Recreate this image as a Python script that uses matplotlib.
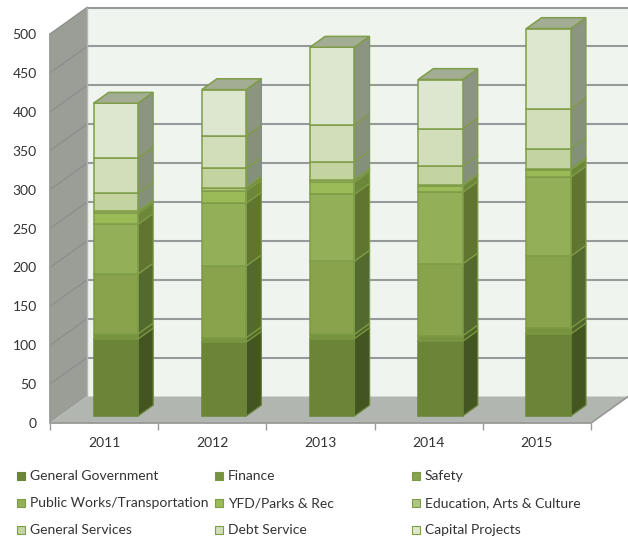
import matplotlib
matplotlib.use("Agg")
import matplotlib.pyplot as plt
import numpy as np
from matplotlib.patches import Rectangle

plt.rcParams['font.family'] = ['Lato', 'DejaVu Sans']

years = ["2011", "2012", "2013", "2014", "2015"]
series = ["General Government", "Finance", "Safety",
          "Public Works/Transportation", "YFD/Parks & Rec", "Education, Arts & Culture",
          "General Services", "Debt Service", "Capital Projects"]

general_government = [99, 95, 99.5, 96, 105.5]
finance = [6.5, 5.5, 5.5, 7, 7.5]
safety = [77, 92.5, 94, 92.5, 92.5]
public_works = [64, 80.5, 86, 92, 101.5]
yfd_parks = [14, 16, 15.5, 8.5, 9.5]
education = [3, 4, 3, 1, 1.5]
general_services = [23, 25, 23, 24.5, 25.5]
debt_service = [45.5, 41.5, 48, 48, 51.5]
capital_projects = [70, 59.5, 99.5, 63, 103]

values = [general_government, finance, safety, public_works, yfd_parks,
          education, general_services, debt_service, capital_projects]

front_colors = ["#6b8437", "#78933f", "#89a34c", "#93af57", "#9bbb59",
                "#afc681", "#c3d4a1", "#d2ddba", "#dde7d0"]
side_colors = ["#435622", "#4f6428", "#54692e", "#5f7530", "#6c8739",
               "#74893f", "#84917a", "#87907a", "#8c9482"]
edge_colors = ["#6b8437", "#7b9741", "#7c9a44", "#7f9c48", "#7f9c48",
               "#7f9c48", "#7f9c48", "#7f9c48", "#7f9c48"]

# depth of the 3D box, in axis units (categories / value)
depth_x = 37 / 108.2
depth_y = 34
bar_width = 0.411
bar_shift = 0.108
bar_base = 9
bar_depth = 0.41

fig = plt.figure(figsize=(6.28, 5.39), dpi=100)
ax = fig.add_axes([50 / 628, (539 - 423) / 539, 541 / 628, 389 / 539])
ax.set_xlim(0, 5)
ax.set_ylim(0, 500)
ax.patch.set_visible(False)
for s in ax.spines.values():
    s.set_visible(False)

# walls and floor
ax.fill([0, depth_x, depth_x, 0], [0, depth_y, 500 + depth_y, 500], color="#9b9e97", lw=0, zorder=1, clip_on=False)
ax.fill([depth_x, 5 + depth_x, 5 + depth_x, depth_x], [depth_y, depth_y, 500 + depth_y, 500 + depth_y],
        color="#f0f4ef", lw=0, zorder=1, clip_on=False)
ax.fill([0, depth_x, 5 + depth_x, 5], [0, depth_y, depth_y, 0], color="#b2b6b1", lw=0, zorder=1, clip_on=False)

# gridlines run across the left wall and the back wall
for v in range(50, 501, 50):
    ax.plot([0, depth_x], [v, v + depth_y], color="#8d8f8a", lw=1, zorder=2, clip_on=False)
    ax.plot([depth_x, 5 + depth_x], [v + depth_y, v + depth_y], color="#97999a", lw=1.5, zorder=2, clip_on=False)
ax.plot([depth_x, depth_x], [depth_y, 500 + depth_y], color="#b5b7b3", lw=1, zorder=2, clip_on=False)
ax.plot([0, 0, 5, 5 + depth_x], [500, 0, 0, depth_y], color="#989a97", lw=1.3, zorder=2, clip_on=False)

x = np.arange(len(years)) + 0.5 + bar_shift
dx = depth_x * bar_depth
dy = depth_y * bar_depth
bottom = np.full(len(years), float(bar_base))
for k, vals in enumerate(values):
    vals = np.array(vals)
    bars = ax.bar(x, vals, bar_width, bottom=bottom, color=front_colors[k],
                  edgecolor=edge_colors[k], linewidth=1.1, zorder=5 + k * 0.01)
    for b in bars:
        b.set_clip_on(False)
    for i in range(len(years)):
        right = x[i] + bar_width / 2
        ax.fill([right, right + dx, right + dx, right],
                [bottom[i], bottom[i] + dy, bottom[i] + vals[i] + dy, bottom[i] + vals[i]],
                facecolor=side_colors[k], edgecolor=edge_colors[k], lw=0.9, zorder=4, clip_on=False)
    bottom = bottom + vals

# tops of the stacks
for i in range(len(years)):
    left = x[i] - bar_width / 2
    right = x[i] + bar_width / 2
    ax.fill([left, right, right + dx, left + dx],
            [bottom[i], bottom[i], bottom[i] + dy, bottom[i] + dy],
            facecolor="#a3ad94", edgecolor="#7f9c48", lw=1.1, zorder=6, clip_on=False)

ax.set_yticks(np.arange(0, 501, 50))
ax.tick_params(axis="y", length=0, pad=9.5, labelsize=10, labelcolor="#333333")
for lab in ax.get_yticklabels():
    lab.set_verticalalignment("center_baseline")
ax.set_xticks(np.arange(0, 6))
ax.set_xticklabels([])
ax.tick_params(axis="x", length=5, width=1, color="#989a97")
for i, yr in enumerate(years):
    ax.text(i + 0.5, -25.5, yr, ha="center", va="center", fontsize=10, color="#333333")

# legend, row by row like the original
legend_x = [17, 215, 412]
legend_y = [476, 503, 530]
for k, name in enumerate(series):
    px = legend_x[k % 3]
    py = legend_y[k // 3]
    fig.add_artist(Rectangle((px / 628, 1 - (py + 4) / 539), 8 / 628, 8 / 539, transform=fig.transFigure,
                             facecolor=front_colors[k], edgecolor=edge_colors[k], lw=0.8))
    fig.text((px + 13) / 628, 1 - py / 539, name, ha="left", va="center", fontsize=10, color="#333333")

fig.savefig("out.png", dpi=100)
